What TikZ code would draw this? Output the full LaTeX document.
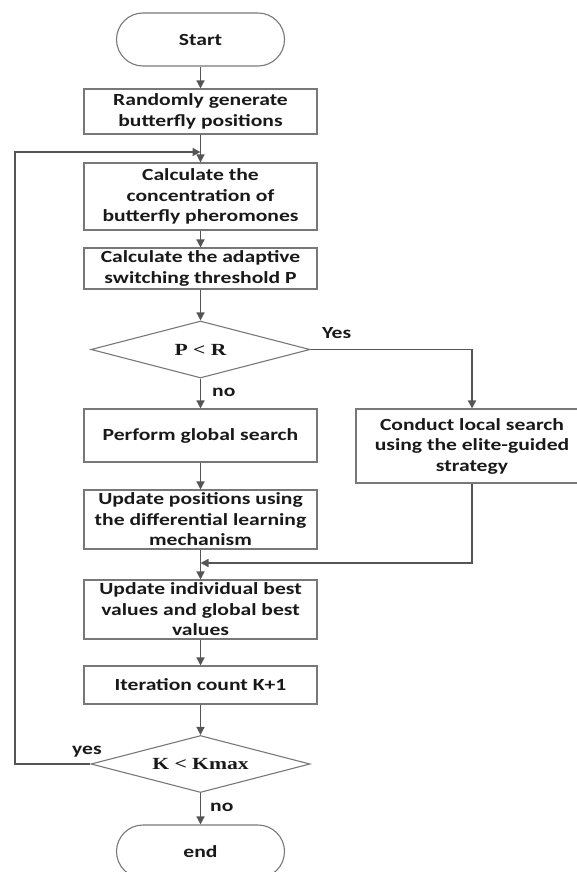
\documentclass[tikz,border=0pt]{standalone}
\usepackage{fontspec}
\newfontfamily\boxfont[FakeStretch=1.27]{Carlito}
\newfontfamily\decfont[FakeStretch=1.27]{Liberation Serif}
\usetikzlibrary{shapes.geometric,arrows.meta}
\definecolor{linec}{RGB}{85,85,85}
\definecolor{boxc}{RGB}{120,120,120}
\definecolor{txtc}{RGB}{25,25,25}
\begin{document}
\begin{tikzpicture}[x=1pt,y=-1pt,
  stepbox/.style={draw=boxc, line width=1.1pt, minimum width=233pt, inner sep=0pt,
    align=center, text=txtc, font=\boxfont\bfseries\fontsize{17}{20.5}\selectfont},
  pill/.style={draw=boxc, line width=1.1pt, rounded corners=26.5pt, minimum width=168pt,
    minimum height=53pt, inner sep=0pt, text=txtc, font=\boxfont\bfseries\fontsize{17}{20.5}\selectfont},
  dec/.style={draw=boxc, line width=1.1pt, shape=diamond, aspect=3.84, inner sep=0pt,
    minimum width=219pt, minimum height=57pt, text=txtc, font=\decfont\bfseries\fontsize{17}{20.5}\selectfont},
  lbl/.style={inner sep=0pt, text=txtc, font=\boxfont\bfseries\fontsize{17}{20.5}\selectfont},
  arr/.style={draw=linec, line width=1.4pt, -{Triangle[length=8pt,width=8pt]}}]
\useasboundingbox (0,0) rectangle (577,872);
\node[pill] (start) at (200.5,39.5) {Start};
\node[stepbox, minimum height=45pt] (b1) at (200.5,111.5) {Randomly generate\\butterfly positions};
\coordinate (m1) at (200.5,152);
\node[stepbox, minimum height=67pt] (b2) at (200.5,196.5) {Calculate the\\concentration of\\butterfly pheromones};
\node[stepbox, minimum height=41pt] (b3) at (200.5,268.5) {Calculate the adaptive\\switching threshold P};
\node[dec] (d1) at (200.5,349.5) {P < R};
\node[stepbox, minimum height=53pt] (gs) at (200.5,435.5) {Perform global search};
\node[stepbox, minimum height=59pt] (up) at (200.5,519.5) {Update positions using\\the differential learning\\mechanism};
\node[stepbox, minimum height=74pt, minimum width=232pt] (rb) at (472,446) {Conduct local search\\using the elite-guided\\strategy};
\coordinate (m2) at (200.5,563);
\node[stepbox, minimum height=59pt] (ui) at (200.5,609.5) {Update individual best\\values and global best\\values};
\node[stepbox, minimum height=38pt] (it) at (200.5,685) {Iteration count K+1};
\node[dec] (d2) at (200.5,764) {K < Kmax};
\node[pill] (end) at (200.5,851.5) {end};
\coordinate (l1) at (15,764);
\coordinate (l2) at (15,152);
\node[lbl, anchor=west] (yes1) at (322,333) {Yes};
\node[lbl, anchor=west] (no1) at (212,392) {no};
\node[lbl, anchor=west] (yes2) at (72,752) {yes};
\node[lbl, anchor=west] (no2) at (210,807) {no};
\draw[arr] (start) -- (b1);
\draw[arr] (b1) -- (b2);
\draw[arr] (b2) -- (b3);
\draw[arr] (b3) -- (d1);
\draw[arr] (d1) -- (gs);
\draw[arr] (gs) -- (up);
\draw[arr] (up) -- (ui);
\draw[arr] (ui) -- (it);
\draw[arr] (it) -- (d2);
\draw[arr] (d2) -- (end);
\draw[arr] (d1.east) -| (rb.north);
\draw[arr] (rb.south) |- (m2);
\draw[arr] (d2.west) -- (l1) -- (l2) -- (m1);
\end{tikzpicture}
\end{document}
